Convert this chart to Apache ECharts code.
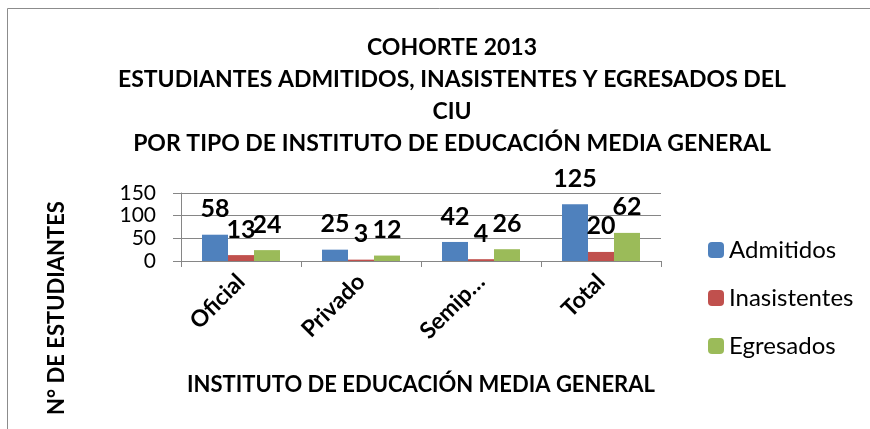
<!DOCTYPE html>
<html>
<head>
<meta charset="utf-8">
<script src="https://cdn.jsdelivr.net/npm/echarts@6/dist/echarts.min.js"></script>
<style>
  html, body { margin: 0; padding: 0; background: #fff; }
  #main { width: 870px; height: 429px; }
</style>
</head>
<body>
<div id="main"></div>
<script>
var categories = ['Oficial', 'Privado', 'Semiprivado', 'Total'];
var admitidos = [58, 25, 42, 125];
var inasistentes = [13, 3, 4, 20];
var egresados = [24, 12, 26, 62];
var yTicks = [0, 50, 100, 150];

var font = 'Lato';
var domDiv = document.getElementById('main');
var myChart = echarts.init(domDiv);

var labelStyle = {
    show: true,
    position: 'top',
    distance: 13,
    fontFamily: font,
    fontWeight: 'bold',
    fontSize: 25,
    color: '#000'
};

var option = {
    animation: false,
    textStyle: { fontFamily: font },
    title: {
        text: 'COHORTE 2013\nESTUDIANTES ADMITIDOS, INASISTENTES Y EGRESADOS DEL\nCIU\nPOR TIPO DE INSTITUTO DE EDUCACIÓN MEDIA GENERAL',
        left: 447,
        textAlign: 'center',
        top: 26,
        textStyle: {
            fontFamily: font,
            fontWeight: 'bold',
            fontSize: 23,
            lineHeight: 32.3,
            color: '#000'
        }
    },
    graphic: [
        {
            type: 'rect',
            shape: { x: 7.5, y: 8.5, width: 900, height: 500 },
            style: { fill: 'none', stroke: '#8c8c8c', lineWidth: 1 }
        },
        {
            type: 'text',
            x: 57,
            y: 308,
            rotation: Math.PI / 2,
            style: {
                text: 'N° DE ESTUDIANTES',
                fontFamily: font,
                fontWeight: 'bold',
                fontSize: 22,
                fill: '#000',
                align: 'center',
                verticalAlign: 'middle'
            }
        }
    ],
    legend: {
        orient: 'vertical',
        left: 703,
        top: 233,
        itemWidth: 16,
        itemHeight: 16,
        itemGap: 24,
        textStyle: { fontFamily: font, fontSize: 24, color: '#000' },
        data: ['Admitidos', 'Inasistentes', 'Egresados']
    },
    grid: { left: 181, right: 209, top: 193, height: 68 },
    xAxis: {
        type: 'category',
        data: categories,
        name: 'INSTITUTO DE EDUCACIÓN MEDIA GENERAL',
        nameLocation: 'middle',
        nameGap: 113,
        nameTextStyle: { fontFamily: font, fontWeight: 'bold', fontSize: 22, color: '#000' },
        axisLine: { lineStyle: { color: '#868686' } },
        axisTick: { show: true, length: 6, lineStyle: { color: '#868686' } },
        axisLabel: {
            rotate: 45,
            margin: 17,
            fontFamily: font,
            fontWeight: 'bold',
            fontSize: 23,
            color: '#000',
            formatter: function (v) { return v.length > 8 ? v.slice(0, 5) + '…' : v; }
        }
    },
    yAxis: {
        type: 'value',
        min: yTicks[0],
        max: yTicks[yTicks.length - 1],
        interval: 50,
        axisLine: { show: true, lineStyle: { color: '#868686' } },
        axisTick: { show: true, length: 8, lineStyle: { color: '#868686' } },
        splitLine: { lineStyle: { color: '#868686' } },
        axisLabel: {
            margin: 25,
            fontFamily: font,
            fontSize: 21,
            color: '#000'
        }
    },
    series: [
        {
            name: 'Admitidos', type: 'bar', data: admitidos,
            barGap: '0%', barCategoryGap: '35%',
            itemStyle: { color: '#4F81BD' }, label: labelStyle
        },
        {
            name: 'Inasistentes', type: 'bar', data: inasistentes,
            itemStyle: { color: '#C0504D' }, label: labelStyle
        },
        {
            name: 'Egresados', type: 'bar', data: egresados,
            itemStyle: { color: '#9BBB59' }, label: labelStyle
        }
    ]
};
myChart.setOption(option);
window.onresize = function () {
    myChart.resize();
};
</script>
</body>
</html>
